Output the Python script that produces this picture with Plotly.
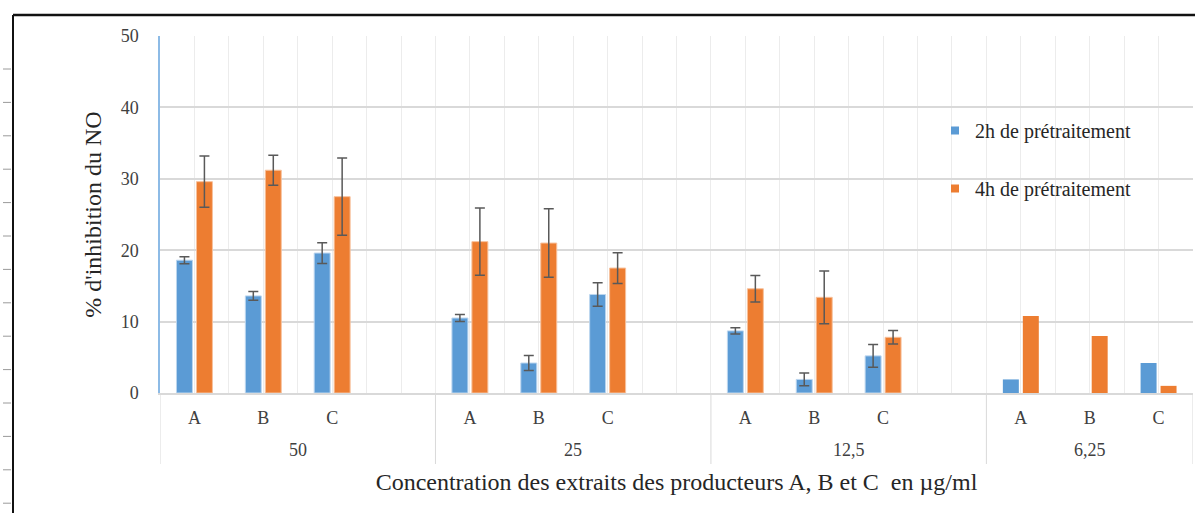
import plotly.graph_objects as go

# Data: % NO inhibition by producer extract (A, B, C) at four concentrations
concentrations = ["50", "25", "12,5", "6,25"]
producers = ["A", "B", "C"]

pretreat_2h = [18.6, 13.6, 19.6,   10.5, 4.2, 13.8,   8.7, 1.9, 5.2,   1.9, 0.0, 4.2]
err_2h      = [0.5, 0.6, 1.45,     0.5, 1.05, 1.65,   0.45, 0.9, 1.6,  None, None, None]
pretreat_4h = [29.6, 31.2, 27.5,   21.2, 21.0, 17.5,  14.6, 13.4, 7.8, 10.8, 8.0, 1.0]
err_4h      = [3.6, 2.1, 5.4,      4.7, 4.8, 2.15,    1.85, 3.7, 0.95, None, None, None]

series_names = ["2h de prétraitement", "4h de prétraitement"]
colors = ["#5b9bd5", "#ed7d31"]
edge_colors = ["#bcd6ef", "#f7c19c"]

# Category slots: each concentration group has A, B, C followed by an empty slot
slot = 4
xpos = [slot * g + p for g in range(len(concentrations)) for p in range(len(producers))]
n_slots = slot * (len(concentrations) - 1) + len(producers)
x_lo, x_hi = -0.5, n_slots - 0.5

# Pixel layout helpers (figure 1195x513, plot area 160..1193 x 36..393)
W, H = 1195, 513
L, R, T, B = 160, 1193, 36, 393
def px_x(px):
    return (px - L) / (R - L)
def px_y(py):
    return (B - py) / (B - T)

fig = go.Figure()
for vals, errs, name, col, ecol in zip(
    [pretreat_2h, pretreat_4h], [err_2h, err_4h], series_names, colors, edge_colors
):
    # points with a standard deviation get error bars, the others are drawn plain
    with_err = [i for i, e in enumerate(errs) if e is not None]
    no_err = [i for i, e in enumerate(errs) if e is None]
    fig.add_trace(go.Bar(
        x=[xpos[i] for i in with_err], y=[vals[i] for i in with_err],
        name=name, offsetgroup=name, showlegend=False,
        marker=dict(color=col, line=dict(color=ecol, width=1)),
        error_y=dict(type="data", array=[errs[i] for i in with_err], visible=True,
                     color="#595959", thickness=1.5, width=5),
    ))
    fig.add_trace(go.Bar(
        x=[xpos[i] for i in no_err], y=[vals[i] for i in no_err],
        name=name, offsetgroup=name, showlegend=False,
        marker=dict(color=col, line=dict(width=0)),
    ))

# Legend entries with small square swatches
for i, (name, col) in enumerate(zip(series_names, colors)):
    fig.add_trace(go.Scatter(
        x=[None], y=[None], mode="markers", name=name,
        marker=dict(symbol="square", size=8, color=col),
        legendgroup=f"g{i}", showlegend=True,
    ))

# Tick labels for producers (blank in the spacer slots)
tickvals = list(range(n_slots))
ticktext = []
for k in tickvals:
    p = k % slot
    ticktext.append(producers[p] if p < len(producers) else "")

shapes = []
annotations = []
grid_div = "#d9d9d9"
# Group dividers extending below the axis
bounds = [x_lo] + [slot * g - 0.5 for g in range(1, len(concentrations))] + [x_hi]
for bx in bounds:
    shapes.append(dict(type="line", xref="x", yref="paper", x0=bx, x1=bx,
                       y0=0, y1=px_y(464), line=dict(color=grid_div, width=1)))
# Concentration labels centred under each group
for g, c in enumerate(concentrations):
    centre = (bounds[g] + bounds[g + 1]) / 2
    annotations.append(dict(x=centre, y=px_y(450), xref="x", yref="paper",
                            text=c, showarrow=False, yanchor="middle",
                            font=dict(size=18, color="#404040")))

# Outer frame (top and left border) and ruler ticks on the left margin
shapes.append(dict(type="line", xref="paper", yref="paper",
                   x0=px_x(13), x1=px_x(W + 5), y0=px_y(15), y1=px_y(15),
                   line=dict(color="#111111", width=2.5)))
shapes.append(dict(type="line", xref="paper", yref="paper",
                   x0=px_x(13), x1=px_x(13), y0=px_y(15), y1=px_y(W),
                   line=dict(color="#111111", width=2)))
for k in range(14):
    ty = 69 + 33.4 * k
    shapes.append(dict(type="line", xref="paper", yref="paper",
                       x0=px_x(3), x1=px_x(11), y0=px_y(ty), y1=px_y(ty),
                       line=dict(color="#9a9a9a", width=1)))

fig.update_layout(
    width=W, height=H,
    margin=dict(l=L, r=W - R, t=T, b=H - B),
    paper_bgcolor="white", plot_bgcolor="white",
    font=dict(family="Liberation Serif", color="#404040"),
    barmode="group", bargap=0.42, bargroupgap=0.2,
    showlegend=True,
    legend=dict(x=px_x(935), y=px_y(111), xanchor="left", yanchor="top",
                bgcolor="rgba(0,0,0,0)", tracegroupgap=29,
                font=dict(family="Liberation Serif", size=20, color="#262626")),
    shapes=shapes, annotations=annotations,
)
fig.update_xaxes(
    range=[x_lo, x_hi], tickmode="array", tickvals=tickvals, ticktext=ticktext,
    showgrid=True, gridcolor="#ececec", gridwidth=1,
    minor=dict(tickmode="array", tickvals=[v + 0.5 for v in range(-1, n_slots)],
               showgrid=True, gridcolor="#ececec", gridwidth=1),
    showline=True, linecolor=grid_div, linewidth=1.5,
    ticks="", ticklabelstandoff=8, tickfont=dict(size=18, color="#404040"),
    zeroline=False,
    title=dict(text="Concentration des extraits des producteurs A, B et C  en µg/ml",
               font=dict(size=24, color="#262626"), standoff=46),
)
fig.update_yaxes(
    range=[0, 50], tickmode="linear", tick0=0, dtick=10,
    showgrid=True, gridcolor="#d9d9d9", gridwidth=1.5,
    showline=True, linecolor="#8dbbe6", linewidth=1.5,
    zeroline=False, ticks="", ticklabelstandoff=16,
    tickfont=dict(size=18, color="#404040"),
    title=dict(text="% d'inhibition du NO", font=dict(size=24, color="#262626"),
               standoff=12),
)

fig.write_html("out.html")
